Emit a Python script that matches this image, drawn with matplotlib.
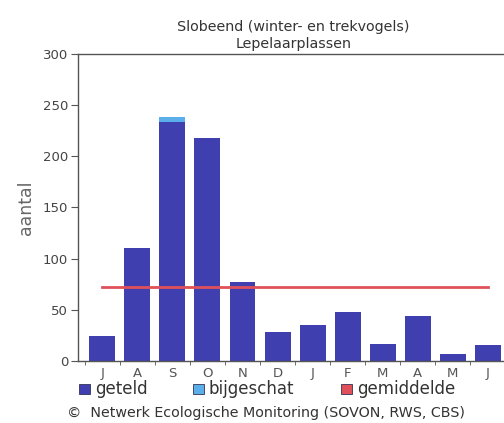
import matplotlib
matplotlib.use("Agg")
import matplotlib.pyplot as plt
from matplotlib.patches import Rectangle

months = ["J", "A", "S", "O", "N", "D", "J", "F", "M", "A", "M", "J"]
geteld = [24, 110, 234, 218, 77, 28, 35, 48, 17, 44, 7, 16]
bijgeschat = [0, 0, 4, 0, 0, 0, 0, 0, 0, 0, 0, 0]
gemiddelde = 72
yticks = [0, 50, 100, 150, 200, 250, 300]

c_geteld = "#3F3FAF"
c_bij = "#5AAEEA"
c_gem = "#E0505A"
txt = "#333333"

plt.rcParams["font.family"] = ["DejaVu Sans"]
fig = plt.figure(figsize=(5.04, 4.23), dpi=100)
ax = fig.add_axes([78 / 504, 1 - 361 / 423, 1 - 78 / 504 + 0.01, (361 - 54) / 423])

x = list(range(len(months)))
ax.bar(x, geteld, width=0.74, color=c_geteld, zorder=2)
ax.bar(x, bijgeschat, bottom=geteld, width=0.74, color=c_bij, zorder=2)
ax.plot([x[0], x[-1]], [gemiddelde, gemiddelde], color=c_gem, lw=2, zorder=3)

ax.set_xlim(-0.69, 11.6)
ax.set_ylim(0, 300)
ax.set_yticks(yticks)
ax.set_yticklabels([str(v) for v in yticks], fontsize=9.5, color="#444444")
ax.set_xticks(x)
ax.set_xticklabels(months, fontsize=9.5, color="#555555")
ax.tick_params(axis="x", length=0, pad=4)
ax.set_xticks([i - 0.5 for i in x], minor=True)
ax.tick_params(axis="x", which="minor", length=3, direction="out", color="#555555")
ax.tick_params(axis="y", length=5, color="#555555", pad=2)
for s in ["left", "bottom", "top"]:
    ax.spines[s].set_color("#555555")
    ax.spines[s].set_linewidth(1)
ax.spines["right"].set_visible(False)

ax.set_ylabel("aantal", fontsize=12.5, color="#666666", labelpad=6)

ax.set_title("Slobeend (winter- en trekvogels)\nLepelaarplassen", fontsize=10.3,
             color=txt, pad=4, linespacing=1.35)

# legend below
def leg(xp, color, label):
    fig.patches.append(Rectangle((xp / 504, 1 - 394 / 423), 11 / 504, 10 / 423,
                                 transform=fig.transFigure, facecolor=color,
                                 edgecolor="#333355", lw=0.6))
    fig.text((xp + 16) / 504, 1 - 389 / 423, label, fontsize=12, color="#333333",
             va="center", ha="left")

leg(79, c_geteld, "geteld")
leg(193, c_bij, "bijgeschat")
leg(341, c_gem, "gemiddelde")

fig.text(266 / 504, 1 - 413 / 423,
         "\u00a9  Netwerk Ecologische Monitoring (SOVON, RWS, CBS)",
         fontsize=10.3, color="#333333", ha="center", va="center")

fig.savefig("out.png", dpi=100)
